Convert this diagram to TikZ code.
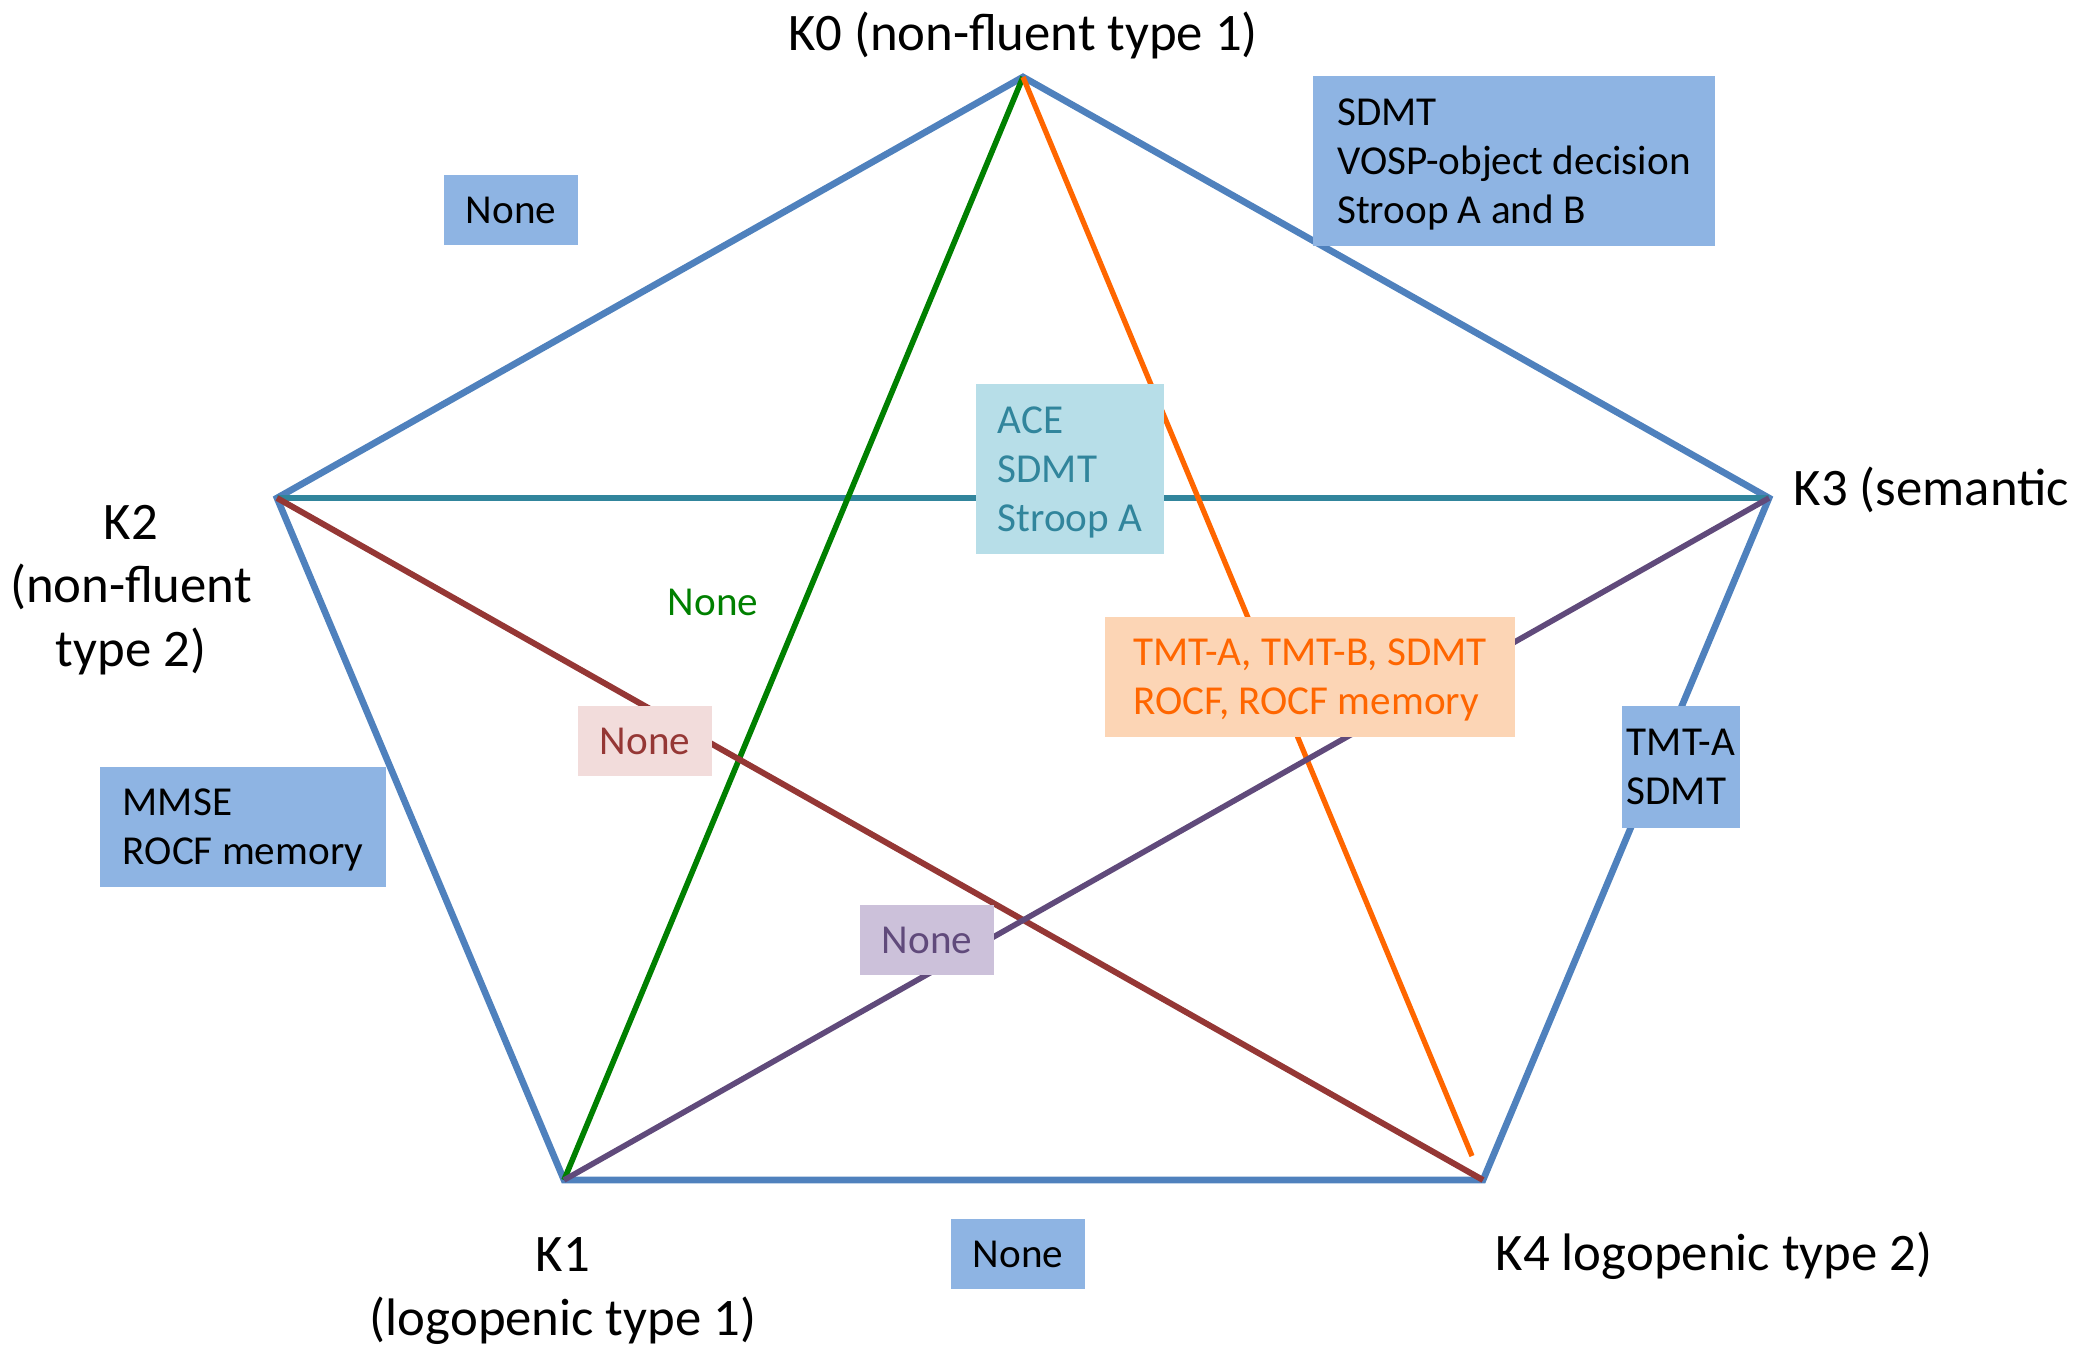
\documentclass[tikz,border=0pt]{standalone}
\usepackage{fontspec}
\setmainfont{Carlito}

\definecolor{edgeblue}{RGB}{79,129,189}
\definecolor{boxblue}{RGB}{142,180,227}
\definecolor{tealline}{RGB}{49,133,156}
\definecolor{tealbox}{RGB}{183,222,232}
\definecolor{greenline}{RGB}{0,128,0}
\definecolor{orangeline}{RGB}{255,102,0}
\definecolor{orangebox}{RGB}{252,213,181}
\definecolor{redline}{RGB}{149,55,53}
\definecolor{redbox}{RGB}{242,220,219}
\definecolor{purpleline}{RGB}{96,74,123}
\definecolor{purplebox}{RGB}{204,193,218}

\begin{document}
\begin{tikzpicture}[x=0.01cm, y=-0.01cm,
    vlabel/.style={font=\fontsize{15}{18}\selectfont, align=center, inner sep=0pt},
    testbox/.style={font=\fontsize{11.7}{13.9}\selectfont, align=left, inner sep=0pt, text depth=0pt},
    nonebox/.style={testbox, minimum width=1.34cm, minimum height=0.70cm},
    edge/.style={edgeblue, line width=1.9pt}]
      \useasboundingbox (0,0) rectangle (2089,1350);

      \coordinate (k0) at (1023,77);
      \coordinate (k2) at (277,498);
      \coordinate (k3) at (1769,498);
      \coordinate (k1) at (564,1180);
      \coordinate (k4) at (1483,1180);
      \coordinate (oend) at (1472,1156);

      \draw[edge] (k0) -- (k3) -- (k4) -- (k1) -- (k2) -- cycle;
      \draw[tealline, line width=1.9pt] (k2) -- (k3);
      \draw[greenline, line width=1.6pt] (k0) -- (k1);
      \draw[orangeline, line width=1.5pt] (k0) -- (oend);
      \draw[redline, line width=1.7pt] (k2) -- (k4);
      \draw[purpleline, line width=1.6pt] (k1) -- (k3);

      \node (k0lab) at (1023,50)[vlabel, anchor=base]{K0 (non-fluent type 1)};
      \node (k2lab) at (131,590)[vlabel]{K2\\(non-fluent\\type 2)};
      \node (k3lab) at (1793,505)[vlabel, anchor=base west]{K3 (semantic};
      \node (k1lab) at (563,1291)[vlabel]{K1\\(logopenic type 1)};
      \node (k4lab) at (1714,1270)[vlabel, anchor=base]{K4 logopenic type 2)};

      \node (n02) at (511,210)[nonebox, fill=boxblue]{None};
      \node (n03) at (1514,161)[testbox, fill=boxblue, minimum width=4.01cm, minimum height=1.69cm]{SDMT\\VOSP-object decision\\Stroop A and B};
      \node (n23) at (1070,469)[testbox, fill=tealbox, text=tealline, minimum width=1.87cm, minimum height=1.70cm]{ACE\\SDMT\\Stroop A};
      \node (n01) at (713,602)[testbox, text=greenline]{None};
      \node (n04) at (1310,677)[testbox, fill=orangebox, text=orangeline, minimum width=4.09cm, minimum height=1.20cm]{TMT-A, TMT-B, SDMT\\ROCF, ROCF memory};
      \node (n24) at (645,741)[nonebox, fill=redbox, text=redline]{None};
      \node (n34) at (1681,767)[testbox, fill=boxblue, minimum width=1.17cm, minimum height=1.21cm]{TMT-A\\SDMT};
      \node (n12) at (243,827)[testbox, fill=boxblue, minimum width=2.86cm, minimum height=1.20cm]{MMSE\\ROCF memory};
      \node (n13) at (927,940)[nonebox, fill=purplebox, text=purpleline]{None};
      \node (n14) at (1018,1254)[nonebox, fill=boxblue]{None};

    \end{tikzpicture}
\end{document}
